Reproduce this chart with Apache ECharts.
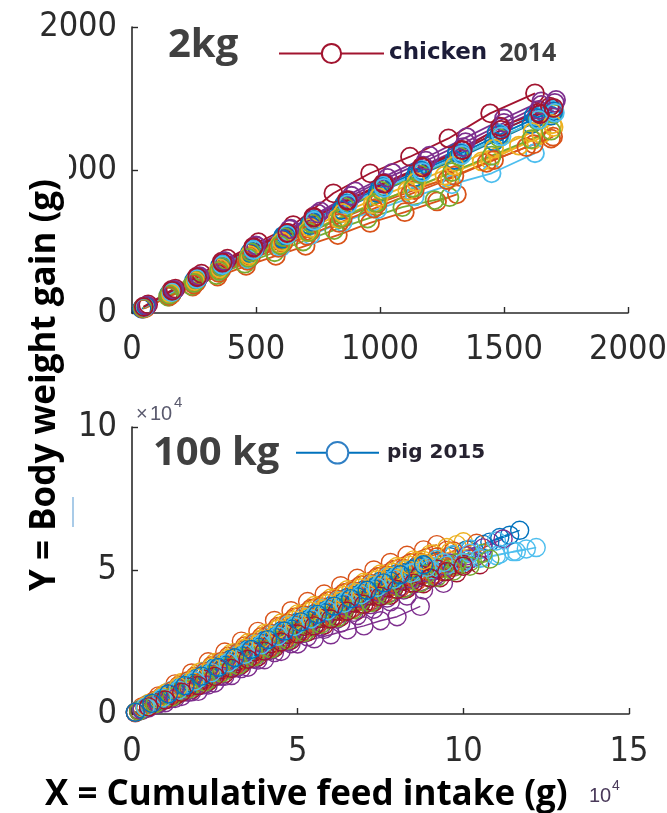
<!DOCTYPE html>
<html>
<head>
<meta charset="utf-8">
<title>Body weight gain vs cumulative feed intake</title>
<script src="https://cdn.jsdelivr.net/npm/echarts@6/dist/echarts.min.js"></script>
<style>
  html, body { margin: 0; padding: 0; background: #fff; }
  #chart { width: 667px; height: 813px; }
</style>
</head>
<body>
<div id="chart"></div>
<script>
// ---- Chicken trial 2014: cumulative feed intake (g) and body weight gain (g), one row per bird ----
const chickenFeed = [
  [50, 155, 255, 355, 480, 610, 725, 855, 1000, 1150, 1310, 1470, 1620, 1695],
  [55, 150, 245, 345, 460, 580, 700, 830, 960, 1100, 1230, 1310],
  [45, 160, 255, 350, 470, 600, 715, 840, 980, 1130, 1282, 1444, 1617, 1700],
  [60, 170, 270, 375, 500, 640, 760, 900, 1050, 1200, 1350, 1500, 1650],
  [50, 145, 240, 340, 455, 575, 690, 815, 950, 1090, 1220, 1280],
  [45, 150, 250, 350, 470, 600, 720, 850, 990, 1140, 1290, 1450, 1625],
  [65, 175, 280, 385, 510, 650, 812, 960, 1121, 1276, 1444, 1625],
  [40, 150, 250, 355, 475, 605, 715, 845, 990, 1140, 1300, 1460, 1610, 1690],
  [50, 160, 260, 360, 480, 610, 720, 850, 990, 1140, 1300, 1460, 1620, 1698],
  [45, 155, 250, 350, 470, 595, 705, 830, 970, 1110, 1260, 1410, 1560, 1650],
  [55, 165, 265, 370, 495, 630, 740, 875, 1020, 1175, 1335, 1490, 1640, 1705],
  [50, 160, 260, 360, 480, 615, 725, 860, 1005, 1160, 1320, 1480, 1635, 1700],
  [45, 160, 262, 363, 488, 625, 730, 867, 1012, 1169, 1331, 1484, 1640, 1700],
  [46, 160, 261, 362, 489, 624, 731, 866, 1013, 1168, 1329, 1484, 1640, 1685],
  [55, 165, 265, 365, 490, 620, 735, 865, 1010, 1165, 1325, 1480, 1630, 1700],
  [45, 150, 250, 350, 465, 590, 705, 835, 975, 1120, 1270, 1430, 1590, 1690],
  [50, 155, 255, 355, 475, 605, 720, 850, 995, 1145, 1300, 1460, 1615, 1695],
  [60, 170, 272, 375, 500, 635, 750, 885, 1030, 1185, 1345, 1500, 1650, 1710],
  [45, 150, 250, 352, 470, 598, 712, 842, 985, 1135, 1290, 1450, 1610, 1690],
  [50, 160, 262, 365, 490, 625, 735, 870, 1015, 1170, 1330, 1490, 1640, 1705],
  [48, 162, 263, 365, 490, 626, 733, 869, 1016, 1172, 1333, 1488, 1645, 1700]
];
const chickenGain = [
  [40, 140, 230, 330, 430, 540, 640, 760, 880, 990, 1120, 1260, 1380, 1430],
  [35, 115, 185, 255, 330, 400, 470, 545, 630, 705, 780, 830],
  [35, 135, 215, 300, 390, 480, 570, 670, 770, 870, 942, 1070, 1210, 1300],
  [50, 160, 255, 360, 470, 590, 710, 850, 980, 1100, 1230, 1360, 1480],
  [35, 115, 190, 265, 345, 425, 500, 580, 660, 740, 790, 810],
  [30, 125, 205, 290, 375, 460, 545, 635, 725, 815, 900, 977, 1117],
  [60, 170, 275, 380, 495, 615, 837, 977, 1093, 1221, 1396, 1536],
  [30, 135, 225, 320, 420, 520, 615, 720, 840, 950, 1070, 1200, 1320, 1380],
  [35, 130, 215, 300, 395, 490, 570, 665, 765, 860, 960, 1070, 1180, 1233],
  [35, 130, 210, 295, 390, 480, 565, 660, 760, 855, 960, 1060, 1170, 1250],
  [45, 150, 245, 345, 450, 560, 665, 790, 910, 1030, 1160, 1300, 1420, 1470],
  [40, 140, 230, 325, 425, 530, 625, 740, 855, 970, 1095, 1225, 1345, 1395],
  [35, 148, 240, 340, 445, 550, 655, 770, 890, 1000, 1120, 1250, 1370, 1420],
  [44, 161, 254, 359, 464, 557, 673, 790, 907, 1023, 1140, 1303, 1400, 1443],
  [45, 150, 240, 335, 440, 545, 650, 765, 880, 995, 1115, 1245, 1365, 1410],
  [30, 120, 200, 280, 365, 455, 540, 630, 730, 830, 930, 1050, 1160, 1220],
  [38, 138, 222, 312, 405, 500, 595, 700, 810, 915, 1030, 1150, 1265, 1320],
  [52, 162, 258, 362, 472, 585, 695, 820, 945, 1065, 1195, 1330, 1455, 1490],
  [35, 128, 210, 295, 385, 475, 565, 665, 770, 875, 985, 1100, 1215, 1275],
  [40, 145, 238, 335, 440, 545, 645, 760, 875, 985, 1105, 1235, 1350, 1400],
  [42, 155, 250, 352, 458, 560, 668, 785, 903, 1018, 1138, 1280, 1390, 1435]
];

// ---- Pig trial 2015: cumulative feed intake (kg) and body weight gain (kg), one row per pig ----
const pigFeed = [
  [1, 6, 11, 16, 21, 26, 31, 36, 41, 46, 51, 56, 61, 66, 71, 76, 81, 86, 91, 96, 101, 106, 111, 117],
  [3, 8, 13, 18, 23, 28, 33, 38, 43, 48, 53, 58, 63, 68, 73, 78, 83, 88, 92],
  [5, 10, 15, 20, 25, 30, 35, 40, 45, 50, 55, 60, 65, 70, 75, 80, 85, 90, 95, 100],
  [2, 7, 12, 17, 22, 27, 32, 37, 42, 47, 52, 57, 62, 67, 72, 77, 82, 87, 92, 97, 102, 104],
  [4, 9, 14, 19, 24, 29, 34, 39, 44, 49, 54, 59, 64, 69, 74, 79, 84, 89, 94, 98, 102],
  [1, 6, 11, 16, 21, 26, 31, 36, 41, 46, 51, 56, 61, 66, 71, 76, 81, 86, 91, 96, 101, 106, 111, 116, 122],
  [3, 8, 13, 18, 23, 28, 33, 38, 43, 48, 53, 58, 63, 68, 73, 78, 83, 88, 93, 98, 105],
  [2, 7, 12, 17, 22, 27, 32, 37, 42, 47, 52, 57, 62, 67, 72, 77, 82, 87, 92, 97, 102, 108, 114],
  [4, 9, 14, 19, 24, 29, 34, 39, 44, 49, 54, 59, 64, 69, 74, 79, 84, 89, 95],
  [1, 6, 11, 16, 21, 26, 31, 36, 41, 46, 51, 56, 61, 66, 71, 76, 81, 86, 91, 98],
  [5, 10, 15, 20, 25, 30, 35, 40, 45, 50, 55, 60, 65, 70, 75, 80, 87],
  [3, 8, 13, 18, 23, 28, 33, 38, 43, 48, 53, 58, 63, 68, 73, 78, 83, 88, 93, 98, 106],
  [2, 7, 12, 17, 22, 27, 32, 37, 42, 47, 52, 57, 62, 67, 72, 77, 82, 87, 92, 97, 102, 110],
  [4, 9, 14, 19, 24, 29, 34, 39, 44, 49, 54, 59, 64, 69, 74, 79, 84, 89, 94, 100],
  [5, 10, 15, 20, 25, 30, 35, 40, 45, 50, 55, 60, 65, 70, 75, 80, 86],
  [2, 7, 12, 17, 22, 27, 32, 37, 42, 47, 52, 57, 62, 67, 72, 77, 82, 87, 92, 97, 104],
  [3, 8, 13, 18, 23, 28, 33, 38, 43, 48, 53, 58, 63, 68, 73, 78, 83, 88, 96],
  [1, 6, 11, 16, 21, 26, 31, 36, 41, 46, 51, 56, 61, 66, 71, 76, 81, 86, 91, 96, 101, 106, 112],
  [4, 9, 14, 19, 24, 29, 34, 39, 44, 49, 54, 59, 64, 69, 74, 79, 84, 89, 94, 98],
  [5, 10, 15, 20, 25, 30, 35, 40, 45, 50, 55, 60, 65, 70, 75, 80, 85, 90, 95, 100, 105, 110, 115, 119],
  [2, 7, 12, 17, 22, 27, 32, 37, 42, 47, 52, 57, 62, 67, 72, 77, 82, 87, 92],
  [3, 8, 13, 18, 23, 28, 33, 38, 43, 48, 53, 58, 63, 68, 73, 78, 85],
  [1, 6, 11, 16, 21, 26, 31, 36, 41, 46, 51, 56, 61, 66, 71, 76, 81, 86, 91, 96],
  [4, 9, 14, 19, 24, 29, 34, 39, 44, 49, 54, 59, 64, 69, 74, 79, 84, 88],
  [3, 8, 13, 18, 23, 28, 33, 38, 43, 48, 53, 58, 63, 68, 73, 78, 83, 88, 94],
  [2, 7, 12, 17, 22, 27, 32, 37, 42, 47, 52, 57, 62, 67, 72, 77, 82, 87, 92, 97, 102, 108],
  [4, 9, 14, 19, 24, 29, 34, 39, 44, 49, 54, 59, 64, 69, 74, 79, 84, 89, 94, 102],
  [5, 10, 15, 20, 25, 30, 35, 40, 45, 50, 55, 60, 65, 70, 75, 80, 85, 90, 95, 100],
  [1, 6, 11, 16, 21, 26, 31, 36, 41, 46, 51, 56, 61, 66, 71, 76, 81, 88]
];
const pigGain = [
  [0.6, 3.5, 6.7, 9.5, 12.7, 15.7, 19.1, 22.0, 25.4, 28.4, 31.7, 34.3, 37.3, 40.0, 43.0, 45.6, 48.5, 50.5, 52.9, 54.8, 57.2, 59.1, 61.5, 64.0],
  [2.5, 6.3, 10.5, 14.3, 18.2, 21.6, 25.4, 28.8, 32.6, 36.0, 39.2, 41.8, 44.7, 47.3, 50.2, 52.8, 55.3, 57.2, 59.0],
  [3.7, 7.2, 11.0, 14.4, 18.0, 21.2, 24.8, 28.1, 31.7, 34.9, 37.8, 40.4, 43.3, 45.9, 48.8, 51.4, 53.7, 55.7, 58.0, 60.0],
  [0.9, 3.1, 5.5, 7.6, 10.3, 13.1, 16.3, 19.1, 22.3, 25.1, 28.1, 30.4, 33.1, 35.4, 38.1, 40.4, 43.2, 45.7, 48.6, 51.1, 54.0, 55.0],
  [2.0, 4.6, 6.9, 9.6, 12.3, 15.5, 18.3, 21.5, 24.3, 27.5, 30.0, 32.9, 35.4, 38.2, 40.7, 43.6, 45.5, 47.8, 49.6, 51.5, 53.0],
  [0.7, 3.8, 7.2, 10.3, 13.7, 16.8, 20.2, 23.3, 26.7, 29.8, 33.1, 35.7, 38.6, 41.2, 44.1, 46.7, 49.3, 50.2, 51.5, 52.3, 53.6, 54.5, 55.7, 56.6, 58.0],
  [1.4, 3.7, 6.3, 8.5, 11.3, 14.1, 17.2, 19.9, 23.0, 25.7, 28.6, 31.0, 33.8, 36.2, 39.0, 41.4, 43.7, 45.4, 47.5, 49.2, 52.0],
  [1.2, 4.5, 7.4, 10.7, 13.7, 17.0, 20.0, 23.4, 26.3, 29.7, 32.5, 35.6, 38.2, 41.2, 43.9, 46.9, 49.2, 51.4, 53.2, 55.4, 57.3, 59.9, 62.3],
  [2.9, 6.2, 9.9, 13.2, 16.8, 20.1, 23.7, 26.9, 30.5, 33.7, 36.8, 39.4, 42.3, 44.9, 47.8, 50.4, 52.7, 54.5, 57.0],
  [0.7, 4.1, 7.8, 11.1, 14.8, 17.9, 21.4, 24.6, 28.1, 31.2, 34.6, 37.2, 40.1, 42.7, 45.6, 48.2, 51.1, 53.2, 55.8, 59.0],
  [2.1, 3.9, 6.1, 7.9, 10.8, 13.4, 16.3, 18.9, 21.8, 24.4, 26.2, 27.6, 29.3, 30.7, 32.5, 33.9, 37.5],
  [1.7, 4.5, 7.6, 10.3, 13.4, 16.3, 19.6, 22.5, 25.8, 28.7, 31.7, 34.2, 37.0, 39.5, 42.4, 44.8, 47.3, 49.0, 51.1, 52.8, 56.0],
  [1.4, 4.6, 8.2, 11.4, 14.9, 18.0, 21.4, 24.5, 27.9, 31.0, 34.2, 36.8, 39.7, 42.3, 45.2, 47.8, 50.3, 51.9, 53.9, 55.5, 57.5, 60.3],
  [2.0, 4.8, 7.3, 10.1, 12.8, 16.0, 18.8, 22.0, 24.8, 28.0, 30.5, 33.2, 35.6, 38.4, 40.8, 43.6, 45.5, 47.7, 49.6, 52.1],
  [3.3, 6.4, 9.8, 12.9, 16.3, 19.2, 22.6, 25.6, 28.9, 31.9, 34.9, 37.6, 40.6, 43.2, 46.3, 48.9, 51.5],
  [1.3, 4.8, 8.0, 11.6, 14.7, 18.3, 21.4, 24.9, 28.1, 31.6, 34.5, 37.4, 40.0, 42.9, 45.5, 48.4, 50.7, 52.9, 54.7, 56.8, 59.5],
  [1.9, 5.1, 8.0, 11.3, 14.4, 17.8, 20.9, 24.3, 27.4, 30.8, 33.6, 36.6, 39.3, 42.3, 44.9, 48.0, 50.4, 52.6, 56.5],
  [0.5, 2.9, 5.1, 7.7, 10.0, 13.2, 16.0, 19.2, 22.0, 25.2, 28.0, 30.9, 33.5, 36.4, 39.0, 41.9, 44.4, 47.3, 49.7, 52.6, 55.1, 57.9, 61.0],
  [2.2, 5.0, 7.6, 10.5, 13.3, 16.5, 19.3, 22.5, 25.3, 28.5, 31.0, 33.9, 36.4, 39.2, 41.7, 44.6, 46.6, 48.8, 50.7, 52.5],
  [3.2, 6.2, 9.5, 12.4, 15.8, 18.7, 22.1, 25.1, 28.4, 31.4, 34.3, 36.9, 39.8, 42.4, 45.3, 47.9, 49.3, 50.3, 51.8, 52.8, 54.2, 55.2, 56.6, 57.5],
  [1.1, 3.9, 6.5, 9.4, 12.1, 15.4, 18.3, 21.6, 24.5, 27.7, 30.5, 33.3, 35.8, 38.7, 41.1, 44.0, 46.2, 48.5, 50.5],
  [1.8, 4.7, 7.9, 10.7, 14.0, 17.0, 20.3, 23.3, 26.7, 29.6, 32.7, 35.3, 38.2, 40.8, 43.7, 46.3, 50.5],
  [0.5, 3.2, 5.7, 8.5, 11.0, 14.1, 16.8, 19.9, 22.6, 25.8, 28.4, 31.2, 33.6, 36.4, 38.8, 41.5, 43.9, 46.4, 48.6, 51.0],
  [2.7, 6.0, 9.5, 12.7, 16.3, 19.4, 22.9, 26.1, 29.6, 32.7, 35.8, 38.4, 41.3, 43.9, 46.8, 49.4, 51.8, 53.5],
  [1.3, 3.5, 5.4, 7.7, 10.1, 13.1, 15.8, 18.8, 21.4, 24.5, 26.9, 29.5, 31.7, 34.3, 36.5, 39.1, 41.1, 43.2, 45.5],
  [1.0, 3.6, 5.9, 8.6, 11.1, 14.2, 16.9, 20.0, 22.7, 25.8, 28.4, 31.2, 33.6, 36.4, 38.8, 41.5, 43.7, 45.8, 47.6, 49.8, 51.5, 54.0],
  [2.4, 5.5, 8.3, 11.5, 14.4, 17.8, 20.8, 24.1, 27.1, 30.5, 33.1, 36.0, 38.6, 41.5, 44.1, 47.0, 49.0, 51.1, 52.8, 56.0],
  [2.5, 4.9, 7.6, 9.9, 13.1, 15.9, 19.1, 21.9, 25.1, 27.9, 30.7, 33.1, 35.8, 38.2, 41.0, 43.4, 45.6, 47.4, 49.6, 51.5],
  [0.6, 3.7, 7.0, 9.9, 13.2, 16.2, 19.6, 22.5, 25.9, 28.9, 32.1, 34.7, 37.6, 40.2, 43.1, 45.7, 48.5, 52.0]
];

// ---- Axis ticks ----
const chickenXTicks = [0, 500, 1000, 1500, 2000];   // g
const chickenYTicks = [0, 1000, 2000];              // g
const pigXTicks = [0, 5, 10, 15];                   // x 10^4 g
const pigYTicks = [0, 5, 10];                       // x 10^4 g

// ---- Legend entries and panel captions ----
const chickenLegend = 'chicken 2014';
const pigLegend = 'pig 2015';
const chickenCaption = '2kg';
const pigCaption = '100 kg';

// ---- Styling ----
const palette = ['#0072BD', '#D95319', '#EDB120', '#7E2F8E', '#77AC30', '#4DBEEE', '#A2142F'];
const tickFont = "'Liberation Sans Narrow', 'DejaVu Sans Condensed', 'Liberation Sans', sans-serif";
const boldFont = "'Open Sans', 'Noto Sans', sans-serif";
const axisColor = '#2a2a2a';
const labelColor = '#2b2b2b';

function axisCommon(gridIndex, ticks, scale, margin) {
  return {
    type: 'value',
    gridIndex: gridIndex,
    min: ticks[0] * scale,
    max: ticks[ticks.length - 1] * scale,
    interval: (ticks[1] - ticks[0]) * scale,
    splitLine: { show: false },
    axisLine: { show: true, onZero: false, lineStyle: { color: axisColor, width: 1.6 } },
    axisTick: { show: true, inside: true, length: 6, lineStyle: { color: axisColor, width: 1.4 } },
    axisLabel: {
      color: labelColor,
      fontFamily: tickFont,
      fontSize: 34,
      margin: margin,
      formatter: v => String(Math.round(v / scale * 100) / 100)
    }
  };
}

const series = [];
chickenFeed.forEach((xs, i) => {
  const c = palette[i % palette.length];
  series.push({
    name: i === chickenFeed.length - 1 ? chickenLegend : 'chicken #' + (i + 1),
    type: 'line',
    xAxisIndex: 0, yAxisIndex: 0,
    data: xs.map((x, k) => [x, chickenGain[i][k]]),
    symbol: 'circle',
    symbolSize: 18,
    itemStyle: { color: 'rgba(255,255,255,0)', borderColor: c, borderWidth: 1.8 },
    lineStyle: { color: c, width: 1.8 },
    emphasis: { disabled: true },
    silent: true,
    animation: false
  });
});
pigFeed.forEach((xs, i) => {
  const c = palette[i % palette.length];
  series.push({
    name: i === 0 ? pigLegend : 'pig #' + (i + 1),
    type: 'line',
    xAxisIndex: 1, yAxisIndex: 1,
    data: xs.map((x, k) => [x, pigGain[i][k]]),
    symbol: 'circle',
    symbolSize: 18,
    itemStyle: { color: 'rgba(255,255,255,0)', borderColor: c, borderWidth: 1.4 },
    lineStyle: { color: c, width: 1.4 },
    emphasis: { disabled: true },
    silent: true,
    animation: false
  });
});

// legend text: species word in a heavy sans, year after it
const legendText = name => {
  const parts = name.split(' ');
  return '{a|' + parts[0] + '}{b|' + parts[1] + '}';
};

const option = {
  backgroundColor: '#fff',
  animation: false,
  grid: [
    { left: 132, top: 27, width: 496, height: 286, outerBoundsMode: 'none', containLabel: false },
    { left: 132, top: 427, width: 497, height: 287, outerBoundsMode: 'none', containLabel: false }
  ],
  xAxis: [axisCommon(0, chickenXTicks, 1, 20), axisCommon(1, pigXTicks, 10, 21)],
  yAxis: [axisCommon(0, chickenYTicks, 1, 15), axisCommon(1, pigYTicks, 10, 15)],
  legend: [
    {
      data: [{ name: chickenLegend, itemStyle: { color: '#fff', borderColor: '#A2142F', borderWidth: 2 } }],
      left: 278, top: 41,
      itemWidth: 105, itemHeight: 24,
      padding: 0, selectedMode: false,
      formatter: legendText,
      textStyle: {
        rich: {
          a: { fontFamily: "'DejaVu Sans', sans-serif", fontWeight: 'bold', fontSize: 23, color: '#1c1c38' },
          b: { fontFamily: boldFont, fontWeight: 'bold', fontSize: 25, color: '#3f3f3f', padding: [0, 0, 0, 12] }
        }
      }
    },
    {
      data: [{ name: pigLegend, itemStyle: { color: '#fff', borderColor: '#2f7fc4', borderWidth: 2 } }],
      left: 295, top: 441,
      itemWidth: 83, itemHeight: 27,
      padding: 0, selectedMode: false,
      formatter: legendText,
      textStyle: {
        rich: {
          a: { fontFamily: "'DejaVu Sans', sans-serif", fontWeight: 'bold', fontSize: 20, color: '#262230', padding: [0, 0, 0, 3] },
          b: { fontFamily: "'DejaVu Sans', sans-serif", fontWeight: 'bold', fontSize: 20, color: '#262230', padding: [0, 0, 0, 7] }
        }
      }
    }
  ],
  graphic: [
    // backing panel of the shared y title
    { type: 'rect', z: 100, shape: { x: 0, y: 140, width: 69, height: 510 }, style: { fill: '#fff' } },
    { type: 'rect', z: 101, shape: { x: 72, y: 497, width: 2, height: 30 }, style: { fill: '#a9cbe8' } },
    {
      type: 'text', z: 102, x: 45, y: 385, rotation: Math.PI / 2,
      style: { text: 'Y = Body weight gain (g)', fontFamily: boldFont, fontWeight: 'bold', fontSize: 35,
               fill: '#000', align: 'center', verticalAlign: 'middle' }
    },
    {
      type: 'text', z: 102, x: 45, y: 795,
      style: { text: 'X = Cumulative feed intake (g)', fontFamily: boldFont, fontWeight: 'bold', fontSize: 35,
               fill: '#000', align: 'left', verticalAlign: 'middle' }
    },
    {
      type: 'text', z: 102, x: 168, y: 46,
      style: { text: chickenCaption, fontFamily: boldFont, fontWeight: 'bold', fontSize: 40,
               fill: '#404040', align: 'left', verticalAlign: 'middle' }
    },
    {
      type: 'text', z: 102, x: 153, y: 454,
      style: { text: pigCaption, fontFamily: boldFont, fontWeight: 'bold', fontSize: 40,
               fill: '#404040', align: 'left', verticalAlign: 'middle' }
    },
    // exponent marks of the pig axes
    {
      type: 'text', z: 102, x: 136, y: 414,
      style: { text: '\u00d7', fontFamily: "'Liberation Sans', sans-serif", fontSize: 20,
               fill: '#5a5a6e', align: 'left', verticalAlign: 'middle' }
    },
    {
      type: 'text', z: 102, x: 150, y: 414,
      style: { text: '10', fontFamily: "'Liberation Sans', sans-serif", fontSize: 20,
               fill: '#5a5a6e', align: 'left', verticalAlign: 'middle' }
    },
    {
      type: 'text', z: 102, x: 174, y: 403,
      style: { text: '4', fontFamily: "'Liberation Sans', sans-serif", fontSize: 15,
               fill: '#5a5a6e', align: 'left', verticalAlign: 'middle' }
    },
    {
      type: 'text', z: 102, x: 589, y: 796,
      style: { text: '10', fontFamily: "'Liberation Sans', sans-serif", fontSize: 20,
               fill: '#4a3a5a', align: 'left', verticalAlign: 'middle' }
    },
    {
      type: 'text', z: 102, x: 612, y: 786,
      style: { text: '4', fontFamily: "'Liberation Sans', sans-serif", fontSize: 14,
               fill: '#4a3a5a', align: 'left', verticalAlign: 'middle' }
    }
  ],
  series: series
};

const chart = echarts.init(document.getElementById('chart'), null, { renderer: 'canvas' });
chart.setOption(option);
</script>
</body>
</html>
